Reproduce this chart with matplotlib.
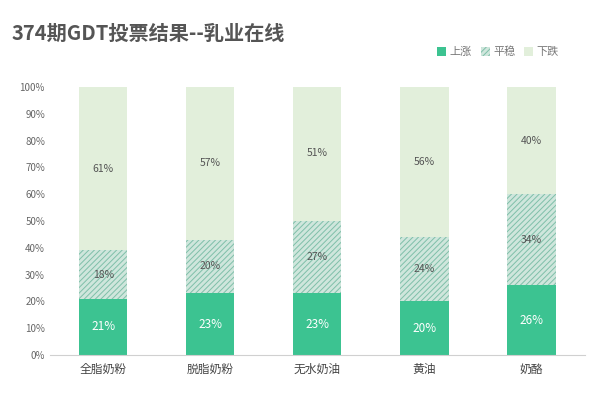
import matplotlib
matplotlib.use("Agg")
import matplotlib.pyplot as plt
from matplotlib import font_manager
import numpy as np
names = {f.name for f in font_manager.fontManager.ttflist}
cjk = [n for n in ['Noto Sans CJK SC', 'Noto Sans CJK JP', 'Noto Sans CJK TC', 'Noto Sans CJK KR', 'Noto Sans SC'] if n in names]
if not cjk:
    cjk = [f.name for f in font_manager.fontManager.ttflist if 'CJK' in f.name or 'CJK' in f.fname][:1]
plt.rcParams['font.family'] = 'sans-serif'
plt.rcParams['font.sans-serif'] = cjk + ['DejaVu Sans']
plt.rcParams['hatch.linewidth'] = 0.7
plt.rcParams['hatch.color'] = '#7fbfa9'

categories = ['全脂奶粉', '脱脂奶粉', '无水奶油', '黄油', '奶酪']
up = [21, 23, 23, 20, 26]
flat = [18, 20, 27, 24, 34]
down = [61, 57, 51, 56, 40]

fig = plt.figure(figsize=(6, 4.01), dpi=100)
ax = fig.add_axes([0.083, 0.115, 0.892, 0.668])
x = np.arange(len(categories))
w = 0.45
up_a = np.array(up); flat_a = np.array(flat); down_a = np.array(down)
ax.bar(x, up_a, w, color='#3cc391', label='上涨')
ax.bar(x, flat_a, w, bottom=up_a, color='#cfe6dc', hatch='//////', edgecolor='#7fbfa9', linewidth=0, label='平稳')
ax.bar(x, down_a, w, bottom=up_a + flat_a, color='#e2efdb', label='下跌')
for i in range(len(x)):
    ax.text(x[i], up_a[i] / 2, f'{up[i]}%', ha='center', va='center', color='white', fontsize=8.5)
    ax.text(x[i], up_a[i] + flat_a[i] / 2, f'{flat[i]}%', ha='center', va='center', color='#555555', fontsize=7.5)
    ax.text(x[i], up_a[i] + flat_a[i] + down_a[i] / 2, f'{down[i]}%', ha='center', va='center', color='#555555', fontsize=7.5)
ax.set_ylim(0, 100)
ax.set_xlim(-0.5, len(x) - 0.5)
ax.set_yticks(range(0, 101, 10))
ax.set_yticklabels([f'{v}%' for v in range(0, 101, 10)], fontsize=7, color='#666666')
ax.set_xticks(x)
ax.set_xticklabels(categories, fontsize=8.5, color='#444444')
for s in ['top', 'right', 'left']:
    ax.spines[s].set_visible(False)
ax.spines['bottom'].set_color('#d0d0d0')
ax.tick_params(length=0)
ax.tick_params(axis='x', pad=6)
fig.text(0.02, 0.9, '374期GDT投票结果--乳业在线', fontsize=14.5, fontweight='bold', color='#555555')
fig.legend(loc='center', bbox_to_anchor=(0.83, 0.87), ncol=3, frameon=False, fontsize=8,
           handlelength=0.8, handleheight=0.8, columnspacing=0.8, handletextpad=0.3, labelcolor='#777777')
fig.savefig('out.png', dpi=100)
